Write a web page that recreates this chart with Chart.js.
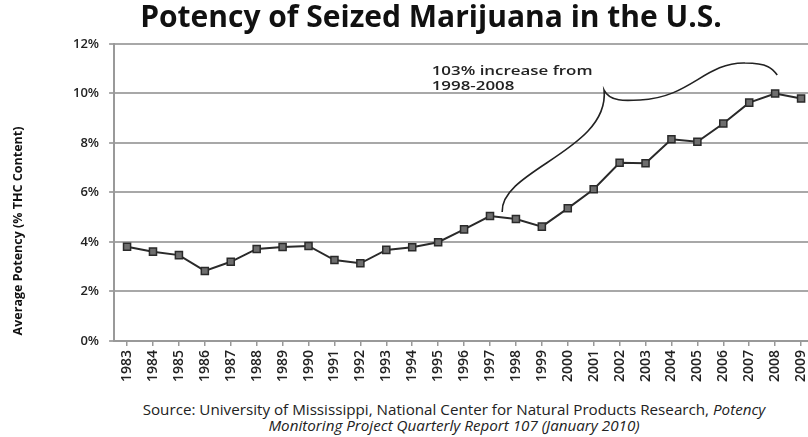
<!DOCTYPE html>
<html>
<head>
<meta charset="utf-8">
<script src="https://cdn.jsdelivr.net/npm/chart.js@4.4.1/dist/chart.umd.min.js"></script>
<style>
  html, body { margin: 0; padding: 0; background: #fff; overflow: hidden; }
  body { width: 808px; height: 437px; position: relative; }
  #wrap { position: absolute; left: 0; top: 0; width: 822px; height: 386px; }
  #source {
    position: absolute; left: 0; top: 401px; width: 908px;
    font-family: "Open Sans", "DejaVu Sans", sans-serif; font-size: 15.2px; color: #222;
    text-align: center; line-height: 16px;
  }
</style>
</head>
<body>
<div id="wrap"><canvas id="chart"></canvas></div>
<div id="source">
  Source: University of Mississippi, National Center for Natural Products Research, <i>Potency</i><br>
  <i>Monitoring Project Quarterly Report 107 (January 2010)</i>
</div>
<script>
const years = ['1983', '1984', '1985', '1986', '1987', '1988', '1989', '1990', '1991', '1992',
  '1993', '1994', '1995', '1996', '1997', '1998', '1999', '2000', '2001', '2002',
  '2003', '2004', '2005', '2006', '2007', '2008', '2009'];
const potency = [3.81, 3.61, 3.47, 2.83, 3.20, 3.72, 3.80, 3.84, 3.27, 3.14,
  3.68, 3.79, 3.99, 4.51, 5.05, 4.93, 4.62, 5.36, 6.13, 7.20,
  7.18, 8.15, 8.05, 8.79, 9.63, 10.0, 9.80];
const yTicks = [0, 2, 4, 6, 8, 10, 12];
const yTitle = 'Average Potency (% THC Content)';

const noteLines = ['103% increase from', '1998-2008'];
// curly brace from the 1998 point up to the 2008 peak, in (category index, percent)
const braceStart = [14.47, 5.21];
const braceCurves = [
  [[14.39, 6.91], [18.63, 7.72], [18.40, 10.14]],
  [[18.63, 9.66], [19.21, 9.70], [19.79, 9.74]],
  [[21.72, 9.82], [22.30, 11.27], [23.84, 11.23]],
  [[24.73, 11.23], [24.90, 11.00], [25.08, 10.75]],
];
const notePos = [11.75, 10.9];

const bracePlugin = {
  id: 'brace',
  afterDatasetsDraw(chart) {
    const { ctx, scales: { x, y } } = chart;
    const px = p => [x.getPixelForValue(p[0]), y.getPixelForValue(p[1])];
    ctx.save();
    ctx.strokeStyle = '#222';
    ctx.lineWidth = 1.6;
    ctx.beginPath();
    const s = px(braceStart);
    ctx.moveTo(s[0], s[1]);
    for (const c of braceCurves) {
      const a = px(c[0]), b = px(c[1]), e = px(c[2]);
      ctx.bezierCurveTo(a[0], a[1], b[0], b[1], e[0], e[1]);
    }
    ctx.stroke();
    // note text is set wide, like the rest of the lettering
    const t = px(notePos);
    ctx.translate(t[0], t[1]);
    ctx.scale(1.3, 1);
    ctx.fillStyle = '#222';
    ctx.font = '600 13px "Open Sans", "DejaVu Sans", sans-serif';
    ctx.textBaseline = 'middle';
    noteLines.forEach((line, i) => ctx.fillText(line, 0, i * 15));
    ctx.restore();
  }
};

// y title sits a bit below the plot centre, so it is drawn by hand in the left padding
const yTitlePlugin = {
  id: 'yTitle',
  afterDraw(chart) {
    const { ctx, chartArea } = chart;
    ctx.save();
    ctx.translate(18, chartArea.bottom - 110);
    ctx.rotate(-Math.PI / 2);
    ctx.fillStyle = '#111';
    ctx.font = 'bold 12.5px "Open Sans", "DejaVu Sans", sans-serif';
    ctx.textAlign = 'center';
    ctx.textBaseline = 'middle';
    ctx.fillText(yTitle, 0, 0);
    ctx.restore();
  }
};

new Chart(document.getElementById('chart'), {
  type: 'line',
  data: {
    labels: years,
    datasets: [{
      data: potency,
      borderColor: '#2a2a2a',
      borderWidth: 2,
      pointStyle: 'rect',
      pointRadius: 5,
      pointBackgroundColor: '#6e6e6e',
      pointBorderColor: '#2a2a2a',
      pointBorderWidth: 1.5,
      tension: 0,
    }]
  },
  options: {
    responsive: true,
    maintainAspectRatio: false,
    animation: false,
    layout: { padding: { left: 40, right: 0, top: 0, bottom: 0 } },
    plugins: {
      legend: { display: false },
      tooltip: { enabled: false },
      title: {
        display: true,
        text: 'Potency of Seized Marijuana in the U.S.',
        color: '#111',
        font: { family: '"Open Sans", "DejaVu Sans", sans-serif', size: 30, weight: 'bold' },
        padding: { top: 0, bottom: 8 },
      },
    },
    scales: {
      x: {
        offset: true,
        grid: { display: true, drawOnChartArea: false, drawTicks: true, tickLength: 5, color: '#999', lineWidth: 1.5 },
        border: { display: true, color: '#999', width: 2 },
        ticks: {
          color: '#222', maxRotation: 90, minRotation: 90, autoSkip: false, padding: 4,
          font: { family: '"Open Sans", "DejaVu Sans", sans-serif', size: 14, weight: '600' },
        },
      },
      y: {
        min: 0, max: 12,
        afterBuildTicks: axis => { axis.ticks = yTicks.map(v => ({ value: v })); },
        afterFit: axis => { axis.width += 23; },
        grid: { color: '#a8a8a8', lineWidth: 2, tickLength: 5 },
        border: { display: true, color: '#999', width: 2 },
        ticks: {
          color: '#222', padding: 10,
          font: { family: '"Open Sans", "DejaVu Sans", sans-serif', size: 13, weight: '600' },
          callback: v => v + '%',
        },
      },
    },
  },
  plugins: [bracePlugin, yTitlePlugin],
});
</script>
</body>
</html>
